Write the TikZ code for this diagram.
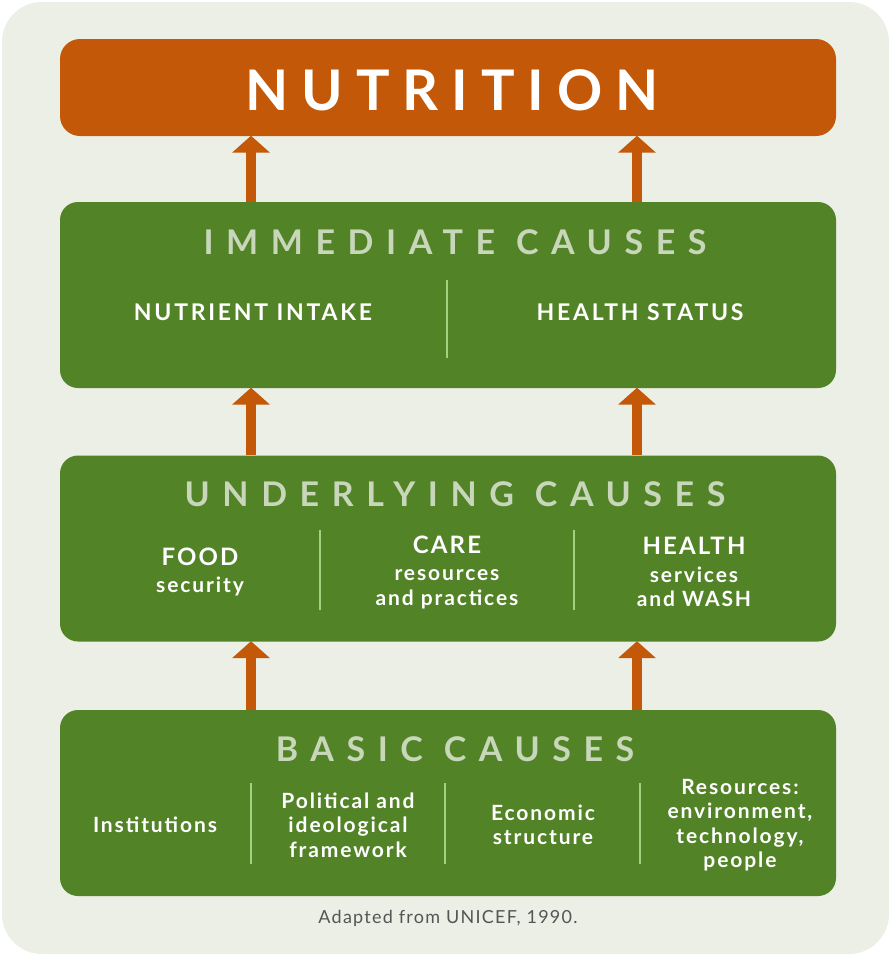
\documentclass[tikz,border=0pt]{standalone}
\usepackage{fontspec}
\setmainfont{Lato}
\usetikzlibrary{arrows.meta}
\definecolor{pagebg}{RGB}{235,239,230}
\definecolor{nutorange}{RGB}{194,88,8}
\definecolor{causegreen}{RGB}{82,131,39}
\definecolor{titlegreen}{RGB}{200,215,186}
\definecolor{sepgreen}{RGB}{165,208,128}
\definecolor{captiongray}{RGB}{85,85,85}

\begin{document}
\begin{tikzpicture}[x=1pt,y=-1pt,
causebox/.style={rectangle, fill=causegreen, rounded corners=18pt, minimum width=776pt, minimum height=186pt, inner sep=0pt},
titletext/.style={text=titlegreen, font=\fontsize{34}{40}\selectfont\bfseries\addfontfeature{LetterSpace=37}},
itemtext/.style={text=white, align=center, font=\fontsize{23}{26}\selectfont\bfseries\addfontfeature{LetterSpace=12}},
smalltext/.style={text=white, align=center, font=\fontsize{21}{24.5}\selectfont\bfseries\addfontfeature{LetterSpace=9}},
sepline/.style={draw=sepgreen, line width=1.3pt},
uparrow/.style={draw=nutorange, line width=10pt, -{Triangle[width=37pt,length=17pt]}, shorten >=-0.5pt}
]
    % page and frame
    \useasboundingbox (0,0) rectangle (894,959);
    \fill[pagebg, rounded corners=40pt] (2,2) rectangle (889,954);

    % nutrition
    \node[rectangle, fill=nutorange, rounded corners=20pt, minimum width=776pt, minimum height=97pt, inner sep=0pt] (nut) at (448,87.5){};
    \node[text=white, font=\fontsize{56}{60}\selectfont\bfseries\addfontfeature{LetterSpace=23}] (nuttitle) at (452,90){NUTRITION};

    % immediate causes
    \node[causebox] (imm) at (448,295){};
    \node[titletext] (immtitle) at (455,242){IMMEDIATE CAUSES};
    \node[itemtext] (intake) at (253,312){NUTRIENT INTAKE};
    \node[itemtext] (status) at (640,312){HEALTH STATUS};
    \draw[sepline] (447,280) -- (447,358);

    % underlying causes
    \node[causebox] (und) at (448,548.5){};
    \node[titletext] (undtitle) at (455,494){UNDERLYING CAUSES};
    \node[smalltext] (food) at (200,572){{\fontsize{24}{27}\selectfont FOOD}\\[3pt]security};
    \node[smalltext] (care) at (447,572){{\fontsize{24}{27}\selectfont CARE}\\[3pt]resources\\and practices};
    \node[smalltext] (health) at (694,572){{\fontsize{24}{27}\selectfont HEALTH}\\[3pt]services\\and WASH};
    \draw[sepline] (320,530) -- (320,610);
    \draw[sepline] (574,530) -- (574,610);

    % basic causes
    \node[causebox] (bas) at (448,803){};
    \node[titletext] (bastitle) at (455,749){BASIC CAUSES};
    \node[smalltext] (inst) at (155,825){Institutions};
    \node[smalltext] (polit) at (348,825){Political and\\ideological\\framework};
    \node[smalltext] (econ) at (543,825){Economic\\structure};
    \node[smalltext] (resrc) at (740,825){Resources:\\environment,\\technology,\\people};
    \draw[sepline] (251,783) -- (251,864);
    \draw[sepline] (445,783) -- (445,864);
    \draw[sepline] (640,783) -- (640,864);

    % arrows
    \coordinate (left) at (251,0);
    \coordinate (right) at (637,0);
    \draw[uparrow] (imm.north -| left) -- (nut.south -| left);
    \draw[uparrow] (imm.north -| right) -- (nut.south -| right);
    \draw[uparrow] (und.north -| left) -- (imm.south -| left);
    \draw[uparrow] (und.north -| right) -- (imm.south -| right);
    \draw[uparrow] (bas.north -| left) -- (und.south -| left);
    \draw[uparrow] (bas.north -| right) -- (und.south -| right);

    \node[text=captiongray, font=\fontsize{18}{20}\selectfont\addfontfeature{LetterSpace=7}] (source) at (448,918){Adapted from UNICEF, 1990.};
\end{tikzpicture}
\end{document}
